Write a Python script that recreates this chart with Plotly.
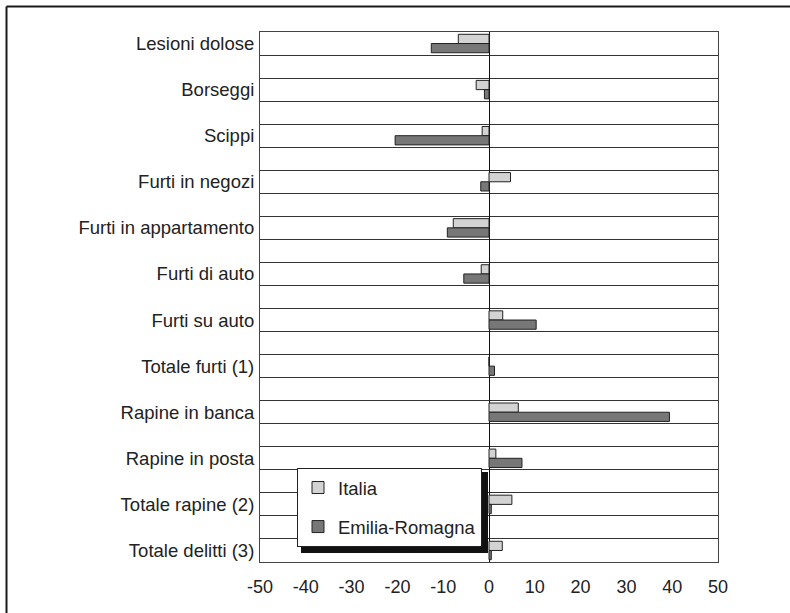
import plotly.graph_objects as go

categorie = ['Lesioni dolose', 'Borseggi', 'Scippi', 'Furti in negozi',
             'Furti in appartamento', 'Furti di auto', 'Furti su auto',
             'Totale furti (1)', 'Rapine in banca', 'Rapine in posta',
             'Totale rapine (2)', 'Totale delitti (3)']
italia = [-6.7, -2.8, -1.5, 4.7, -7.8, -1.7, 3.0, 0.0, 6.4, 1.5, 5.0, 2.9]
emilia_romagna = [-12.6, -1.0, -20.5, -1.8, -9.1, -5.5, 10.3, 1.2, 39.4, 7.2, 0.5, 0.5]
x_ticks = [-50, -40, -30, -20, -10, 0, 10, 20, 30, 40, 50]
x_ticktext = ['-50', '-40', '-30', '-20', '-10', '0', '10', '20', '30', '40', '50']

# ogni categoria occupa una riga, con una riga vuota tra una e l'altra
n_righe = 2 * len(categorie) - 1
pos = [n_righe - 0.5 - 2 * i for i in range(len(categorie))]

FONT = 'Liberation Sans, Arial, sans-serif'

fig = go.Figure()
fig.add_trace(go.Bar(
    y=pos, x=italia, orientation='h', name='Italia',
    width=0.4, offset=0, legendgroup='a',
    marker=dict(color='#d3d3d3', line=dict(color='#222222', width=1)),
))
fig.add_trace(go.Bar(
    y=pos, x=emilia_romagna, orientation='h', name='Emilia-Romagna',
    width=0.4, offset=-0.4, legendgroup='b',
    marker=dict(color='#777777', line=dict(color='#222222', width=1)),
))

fig.update_layout(
    width=790, height=613,
    margin=dict(l=260, r=72, t=32, b=51),
    paper_bgcolor='white', plot_bgcolor='white',
    font=dict(family=FONT, size=18.5, color='#222222'),
    barmode='overlay',
    showlegend=True,
    legend=dict(
        x=(297 - 260) / 458, y=(562 - 468) / 530, xanchor='left', yanchor='top',
        bgcolor='white', bordercolor='#222222', borderwidth=1,
        traceorder='grouped', tracegroupgap=12,
        font=dict(family=FONT, size=18.5, color='#222222'),
    ),
)

fig.update_xaxes(
    range=[-50, 50], tickvals=x_ticks, ticktext=x_ticktext, showgrid=False,
    zeroline=True, zerolinecolor='#111111', zerolinewidth=1,
    showline=True, mirror=True, linecolor='#444444', linewidth=1,
    ticks='', ticklabelstandoff=8, tickfont=dict(size=18), fixedrange=True,
)
fig.update_yaxes(
    range=[0, n_righe], tickvals=pos, ticktext=categorie,
    showgrid=False, zeroline=False, fixedrange=True,
    showline=True, mirror=True, linecolor='#444444', linewidth=1,
    ticks='', ticklabelstandoff=1,
    minor=dict(tickvals=list(range(n_righe + 1)), showgrid=True,
               gridcolor='#333333', gridwidth=1, ticks=''),
)

# ombra della legenda
fig.add_shape(type='rect', xref='paper', yref='paper', layer='above',
              x0=(301 - 260) / 458, x1=(488 - 260) / 458,
              y0=(562 - 553) / 530, y1=(562 - 472) / 530,
              fillcolor='#111111', line=dict(width=0))

# cornice esterna
fx = (6.5 - 260) / 458
fy = 1 + (32 - 6.5) / 530
fig.add_shape(type='line', xref='paper', yref='paper', x0=fx, x1=1.3, y0=fy, y1=fy,
              line=dict(color='#1a1a1a', width=2))
fig.add_shape(type='line', xref='paper', yref='paper', x0=fx, x1=fx, y0=fy, y1=-0.2,
              line=dict(color='#1a1a1a', width=2))

fig.write_html('out.html', config={'displayModeBar': False},
               post_script="document.body.style.margin='0';")
